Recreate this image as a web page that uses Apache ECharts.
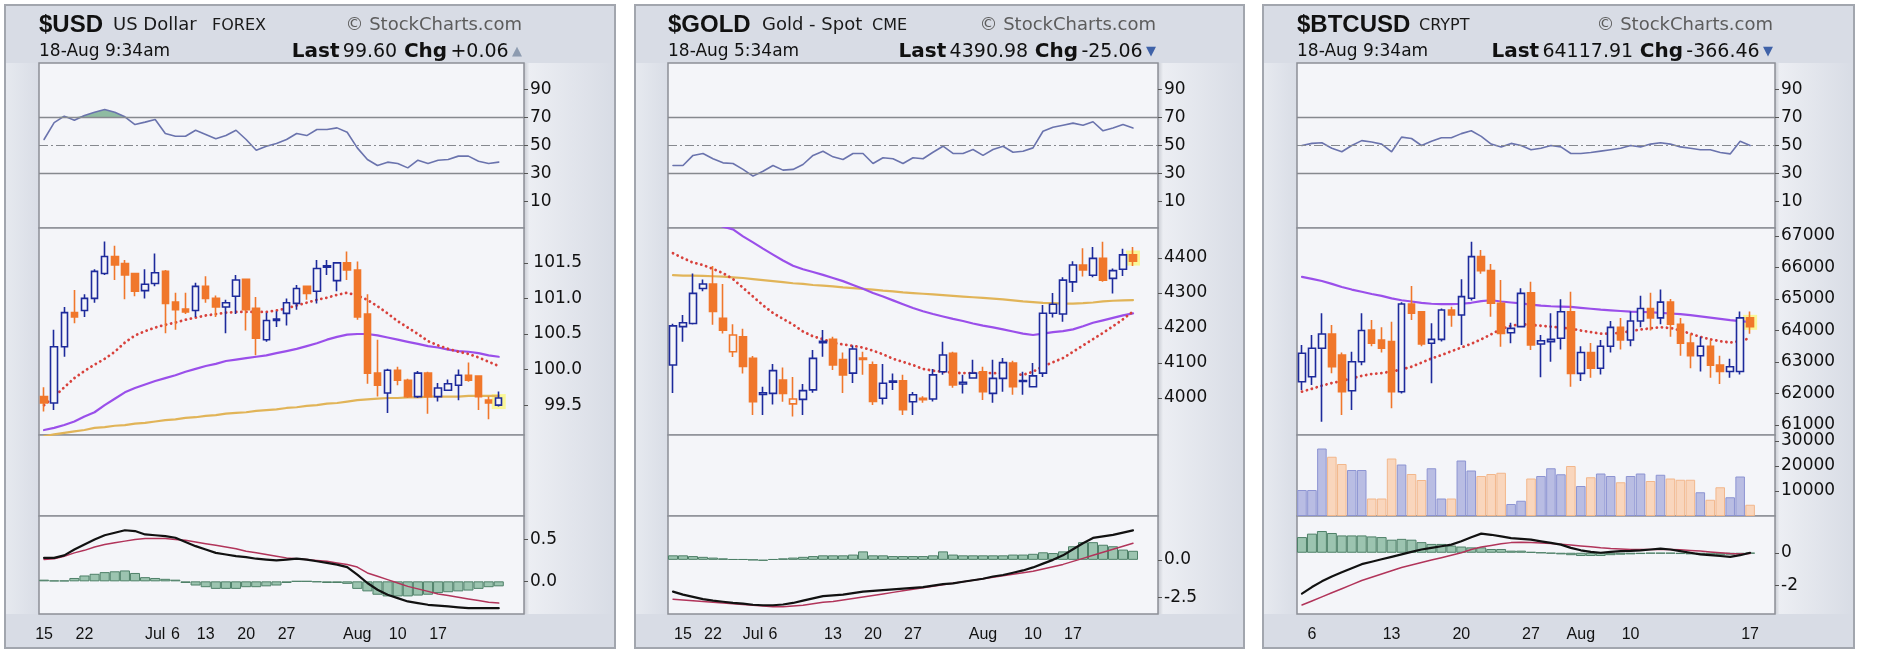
<!DOCTYPE html>
<html>
<head>
<meta charset="utf-8">
<title>StockCharts panels</title>
<script src="https://cdn.jsdelivr.net/npm/echarts@6.0.0/dist/echarts.min.js"></script>
<style>
  html, body { margin: 0; padding: 0; background: #ffffff; }
  #main { width: 1882px; height: 658px; }
</style>
</head>
<body>
<div id="main"></div>
<script>
// ---------- $USD (rows: open, high, low, close) ----------
var usdOHLC = [
  [99.62,99.75,99.41,99.53],[99.53,100.56,99.43,100.32],[100.32,100.88,100.18,100.80],[100.80,101.12,100.65,100.74],
  [100.83,101.06,100.74,101.00],[101.00,101.41,100.94,101.38],[101.35,101.80,101.33,101.59],[101.59,101.74,101.26,101.47],
  [101.49,101.54,100.99,101.33],[101.35,101.36,101.03,101.10],[101.11,101.41,101.00,101.20],[101.21,101.63,101.17,101.36],
  [101.38,101.40,100.51,100.93],[100.95,101.08,100.56,100.84],[100.85,101.08,100.78,100.81],[100.83,101.22,100.74,101.17],
  [101.17,101.31,100.94,101.00],[101.00,101.04,100.74,100.88],[100.88,100.98,100.51,100.94],[101.03,101.33,100.78,101.26],
  [101.27,101.28,100.55,100.84],[100.86,101.02,100.20,100.44],[100.42,100.80,100.39,100.69],[100.69,100.82,100.60,100.71],
  [100.79,101.00,100.62,100.94],[100.93,101.19,100.84,101.14],[101.17,101.17,100.98,101.07],[101.10,101.54,100.93,101.42],
  [101.44,101.54,101.33,101.46],[101.25,101.50,101.10,101.50],[101.50,101.66,101.26,101.40],[101.40,101.52,100.70,100.74],
  [100.78,101.06,99.80,99.95],[99.95,100.42,99.62,99.78],[99.67,100.01,99.39,99.99],[99.99,100.04,99.78,99.85],
  [99.85,99.87,99.60,99.62],[99.62,99.98,99.60,99.95],[99.95,99.97,99.38,99.62],[99.62,99.81,99.55,99.74],
  [99.71,99.86,99.70,99.80],[99.78,100.00,99.57,99.92],[99.92,100.10,99.83,99.85],[99.91,99.92,99.43,99.62],
  [99.57,99.62,99.30,99.53],[99.50,99.69,99.48,99.60]
];
var usdMA20 = [99.50,99.62,99.75,99.88,99.98,100.07,100.15,100.25,100.38,100.48,100.54,100.59,100.63,100.66,100.70,100.73,
  100.76,100.78,100.80,100.81,100.81,100.81,100.81,100.83,100.86,100.90,100.94,100.98,101.01,101.05,101.08,101.04,
  100.98,100.89,100.79,100.68,100.59,100.50,100.40,100.34,100.29,100.25,100.22,100.17,100.11,100.05];
var usdMA50 = [99.15,99.18,99.22,99.27,99.34,99.40,99.50,99.59,99.68,99.74,99.79,99.84,99.88,99.92,99.97,100.01,
  100.05,100.08,100.12,100.14,100.16,100.18,100.20,100.23,100.26,100.29,100.33,100.37,100.42,100.46,100.49,100.50,
  100.50,100.48,100.45,100.42,100.39,100.36,100.33,100.31,100.28,100.26,100.25,100.23,100.20,100.18];
var usdMA200 = [99.06,99.09,99.11,99.13,99.15,99.18,99.19,99.21,99.22,99.24,99.25,99.27,99.29,99.30,99.32,99.33,
  99.35,99.36,99.38,99.39,99.40,99.42,99.43,99.44,99.46,99.47,99.49,99.50,99.52,99.53,99.55,99.57,
  99.58,99.59,99.60,99.60,99.61,99.61,99.62,99.62,99.62,99.62,99.63,99.63,99.63,99.63];
var usdRSI = [54.3,66.4,71.0,68.0,71.4,73.8,75.7,73.8,70.5,65.0,66.7,68.6,58.6,56.6,56.6,60.9,57.9,54.8,57.1,60.9,
  54.3,46.6,49.5,51.4,54.3,58.6,57.1,61.4,61.4,62.6,59.5,48.3,40.0,35.7,38.1,37.1,34.0,39.5,37.1,39.5,
  40.0,42.4,42.4,38.8,37.1,38.1];
var usdMACD = [0.28,0.28,0.31,0.38,0.44,0.50,0.55,0.58,0.61,0.60,0.56,0.55,0.54,0.52,0.47,0.42,0.38,0.34,0.32,0.30,
  0.29,0.27,0.26,0.25,0.26,0.27,0.26,0.24,0.22,0.20,0.17,0.08,-0.02,-0.10,-0.16,-0.20,-0.24,-0.26,-0.28,-0.29,
  -0.30,-0.31,-0.32,-0.32,-0.32,-0.32];
var usdSignal = [0.26,0.27,0.30,0.34,0.37,0.41,0.44,0.46,0.48,0.50,0.51,0.51,0.51,0.50,0.49,0.47,0.45,0.43,0.41,0.39,
  0.36,0.34,0.32,0.30,0.28,0.27,0.26,0.25,0.24,0.22,0.20,0.17,0.10,0.06,0.02,-0.02,-0.06,-0.09,-0.12,-0.15,
  -0.17,-0.19,-0.21,-0.23,-0.25,-0.26];
var usdHist = [0.02,0.01,0.01,0.04,0.07,0.09,0.11,0.12,0.13,0.10,0.05,0.04,0.03,0.02,-0.02,-0.05,-0.07,-0.09,-0.09,-0.09,
  -0.07,-0.07,-0.06,-0.05,-0.02,0.00,0.00,-0.01,-0.02,-0.02,-0.03,-0.09,-0.12,-0.16,-0.18,-0.18,-0.18,-0.17,-0.16,-0.14,
  -0.13,-0.12,-0.11,-0.09,-0.07,-0.06];
var usdPriceTicks = [101.5, 101.0, 100.5, 100.0, 99.5];
var usdMacdTicks = [0.5, 0.0];
var usdDateTicks = [[0,'15'],[4,'22'],[11,'Jul'],[13,'6'],[16,'13'],[20,'20'],[24,'27'],[31,'Aug'],[35,'10'],[39,'17']];

// ---------- $GOLD ----------
var goldOHLC = [
  [4094,4212,4014,4206],[4204,4237,4161,4215],[4213,4356,4210,4299],[4313,4339,4305,4326],[4326,4377,4209,4247],
  [4228,4326,4184,4194],[4132,4211,4117,4180],[4175,4198,4070,4090],[4113,4120,3951,3989],[4010,4032,3951,4015],
  [4013,4097,3981,4078],[4051,4087,3989,4013],[3983,4060,3947,3997],[3996,4040,3951,4021],[4023,4137,4015,4113],
  [4158,4194,4118,4162],[4168,4175,4080,4094],[4110,4130,4014,4066],[4071,4150,4043,4140],[4110,4132,4066,4114],
  [4095,4104,3980,3990],[3999,4097,3981,4042],[4045,4070,4023,4048],[4049,4066,3951,3966],[3989,4017,3951,4009],
  [3995,4005,3986,3999],[3997,4083,3990,4066],[4075,4161,4066,4123],[4128,4132,4029,4037],[4040,4066,4013,4045],
  [4057,4109,4055,4071],[4075,4089,3994,4018],[4013,4109,3986,4056],[4056,4114,4018,4101],[4100,4106,4009,4032],
  [4047,4075,4009,4050],[4032,4100,4030,4063],[4071,4266,4060,4242],[4242,4300,4230,4268],[4240,4345,4218,4337],
  [4332,4391,4303,4380],[4380,4428,4347,4366],[4351,4432,4345,4399],[4399,4447,4332,4337],[4342,4370,4299,4364],
  [4368,4427,4349,4409],[4409,4432,4377,4391]
];
var goldMA20 = [4414,4400,4387,4380,4369,4357,4340,4315,4290,4265,4243,4226,4210,4190,4176,4168,4158,4153,4149,4144,
  4135,4125,4112,4103,4094,4083,4078,4075,4072,4071,4071,4071,4071,4070,4068,4066,4075,4090,4102,4114,
  4132,4150,4168,4186,4205,4225,4247];
var goldMA50 = [4560,4545,4530,4515,4500,4490,4482,4462,4445,4427,4410,4393,4378,4368,4360,4352,4343,4334,4323,4312,
  4300,4290,4279,4268,4257,4248,4240,4233,4226,4220,4213,4207,4202,4196,4190,4184,4180,4184,4188,4191,
  4196,4205,4215,4222,4229,4236,4242];
var goldMA200 = [4351,4350,4350,4349,4348,4347,4345,4343,4340,4337,4334,4331,4328,4326,4323,4321,4319,4316,4314,4312,
  4310,4307,4305,4302,4300,4298,4296,4294,4292,4290,4288,4286,4284,4282,4279,4276,4274,4272,4271,4270,
  4270,4271,4273,4276,4278,4279,4280];
var goldRSI = [35.7,35.7,42.9,44.3,40.5,37.6,37.1,32.9,28.1,31.6,35.7,32.4,32.9,36.4,42.9,45.9,41.9,40.0,44.3,44.3,
  37.1,41.2,40.5,37.1,41.2,40.5,45.2,49.5,44.3,44.3,47.1,42.9,47.1,49.5,45.2,45.9,48.3,60.2,63.0,64.5,
  66.0,64.5,67.0,60.5,62.5,65.0,62.5];
var goldMACD = [-2.10,-2.30,-2.45,-2.60,-2.70,-2.77,-2.85,-2.90,-2.97,-3.00,-3.00,-2.95,-2.85,-2.70,-2.55,-2.40,-2.35,-2.30,-2.20,-2.10,
  -2.05,-2.00,-1.95,-1.90,-1.85,-1.80,-1.70,-1.60,-1.55,-1.45,-1.35,-1.25,-1.10,-1.00,-0.85,-0.70,-0.50,-0.25,0.00,0.30,
  0.70,1.10,1.45,1.55,1.65,1.80,1.95];
var goldSignal = [-2.60,-2.65,-2.70,-2.75,-2.80,-2.85,-2.90,-2.95,-3.00,-3.05,-3.10,-3.10,-3.05,-3.00,-2.90,-2.80,-2.75,-2.65,-2.55,-2.45,
  -2.35,-2.25,-2.15,-2.05,-1.95,-1.85,-1.75,-1.65,-1.55,-1.45,-1.35,-1.25,-1.15,-1.05,-0.95,-0.85,-0.75,-0.60,-0.45,-0.30,
  -0.10,0.10,0.30,0.50,0.70,0.90,1.10];
var goldHist = [0.30,0.30,0.25,0.20,0.15,0.10,0.05,0.05,0.00,-0.05,0.05,0.10,0.15,0.20,0.25,0.30,0.30,0.30,0.35,0.56,
  0.30,0.30,0.25,0.25,0.25,0.25,0.30,0.56,0.35,0.30,0.30,0.30,0.30,0.30,0.35,0.35,0.40,0.50,0.45,0.56,
  0.90,1.17,1.17,1.00,0.90,0.68,0.60];
var goldPriceTicks = [4400, 4300, 4200, 4100, 4000];
var goldMacdTicks = [0.0, -2.5];
var goldDateTicks = [[1,'15'],[4,'22'],[8,'Jul'],[10,'6'],[16,'13'],[20,'20'],[24,'27'],[31,'Aug'],[36,'10'],[40,'17']];

// ---------- $BTCUSD ----------
var btcOHLC = [
  [62375,63540,62111,63276],[62533,63857,62270,63435],[63435,64546,61105,63889],[63889,64175,62640,62850],
  [63222,63300,61317,62058],[62090,63327,61476,63010],[63010,64546,62900,64000],[64016,64333,63500,63594],
  [63698,64100,63300,63435],[63646,64280,61529,62058],[62058,64900,62000,64841],[64841,65413,64333,64546],
  [64597,64600,63500,63571],[63594,64228,62323,63720],[63720,64700,63650,64650],[64650,64756,64122,64492],
  [64492,65625,63540,65074],[65022,66820,64950,66344],[66344,66556,65800,65900],[65900,66111,64439,64863],
  [64863,65603,63487,63910],[63930,64250,63594,64068],[64122,65340,64100,65180],[65200,65550,63381,63540],
  [63571,63857,62514,63677],[63646,64546,63010,63720],[63752,64990,63400,64597],[64597,65233,62217,62640],
  [62640,63500,62400,63300],[63300,63600,62500,62800],[62800,63700,62600,63500],[63500,64300,63300,64100],
  [64100,64400,63400,63700],[63700,64600,63500,64300],[64300,65100,64100,64700],[64700,65200,64000,64400],
  [64400,65300,64200,64900],[64900,65000,63800,64200],[64200,64400,63200,63600],[63600,63900,62800,63200],
  [63200,63800,62700,63500],[63500,63700,62500,62900],[62900,63200,62300,62700],[62700,63100,62500,62850],
  [62700,64600,62600,64400],[64400,64600,63900,64118]
];
var btcVolume = [10400,10400,27000,23700,20800,18400,18400,7000,7000,23000,20600,16800,14400,19100,7000,7000,
  22200,18200,16000,16800,17300,4800,6100,15000,16000,19100,16700,20000,12000,15500,17000,16000,
  13500,16000,17000,14000,16500,15000,14500,14500,9500,6500,11500,7500,15800,4500];
var btcMA20 = [62060,62150,62250,62330,62400,62480,62560,62620,62650,62700,62760,62850,62980,63110,63220,63340,
  63460,63580,63720,63880,64050,64150,64200,64180,64150,64120,64090,64060,64000,63950,63900,63900,
  63930,63980,64030,64070,64100,64080,64000,63900,63800,63720,63660,63620,63660,63760];
var btcMA50 = [65700,65640,65570,65480,65380,65300,65230,65160,65100,65020,64960,64920,64880,64850,64840,64840,
  64850,64880,64930,64960,64920,64890,64860,64820,64790,64770,64760,64750,64720,64690,64660,64640,
  64620,64600,64590,64580,64560,64540,64520,64490,64450,64410,64370,64330,64300,64270];
var btcRSI = [50,51.5,52,48,45.5,50,53.5,52.5,51,45.5,56,55,50,53,55.5,55.5,58.5,60.5,56.5,51,
  49,51.5,50,47,48,50,49,44.3,44.3,45,46,47,48,50,49,51,52,51,49,48,47,47,45,44,53,50];
var btcMACD = [-2.50,-2.10,-1.75,-1.45,-1.20,-0.95,-0.70,-0.55,-0.40,-0.25,-0.10,0.05,0.20,0.30,0.40,0.50,
  0.70,0.95,1.17,1.10,1.00,0.90,0.85,0.80,0.70,0.60,0.50,0.30,0.15,0.05,0.00,0.05,
  0.10,0.12,0.15,0.20,0.25,0.20,0.10,0.00,-0.10,-0.15,-0.20,-0.25,-0.15,0.00];
var btcSignal = [-3.20,-2.95,-2.70,-2.45,-2.20,-1.95,-1.70,-1.50,-1.30,-1.10,-0.90,-0.75,-0.60,-0.45,-0.30,-0.15,
  0.00,0.20,0.35,0.45,0.55,0.62,0.64,0.62,0.60,0.56,0.52,0.48,0.42,0.36,0.30,0.26,
  0.23,0.20,0.20,0.20,0.20,0.20,0.18,0.14,0.10,0.05,0.00,-0.05,-0.07,-0.05];
var btcHist = [0.96,1.17,1.33,1.21,1.06,1.06,1.06,1.00,0.96,0.80,0.85,0.80,0.65,0.54,0.54,0.44,
  0.38,0.33,0.33,0.23,0.23,0.13,0.13,0.05,0.00,-0.05,-0.10,-0.15,-0.20,-0.20,-0.20,-0.15,
  -0.12,-0.10,-0.08,-0.05,-0.05,-0.05,-0.08,-0.10,-0.12,-0.15,-0.15,-0.12,-0.08,-0.05];
var btcPriceTicks = [67000, 66000, 65000, 64000, 63000, 62000, 61000];
var btcVolumeTicks = [30000, 20000, 10000];
var btcMacdTicks = [0, -2];
var btcDateTicks = [[1,'6'],[9,'13'],[16,'20'],[23,'27'],[28,'Aug'],[33,'10'],[45,'17']];

var rsiTicks = [90, 70, 50, 30, 10];

// ---------- layout & styles ----------
var FONT = 'Liberation Sans, Arial, sans-serif';
var FONT2 = 'DejaVu Sans, Verdana, sans-serif';
var BLUE = '#1d2a9b', ORANGE = '#f0772b', PLOT_BG = '#f4f5f9';

var panels = [
  { left: 5, right: 615, plotL: 39, plotR: 524, n: 48,
    sym: '$USD', name: 'US Dollar', exch: 'FOREX', nameX: 74, exchX: 173,
    stamp: '18-Aug 9:34am', last: '99.60', chg: '+0.06', up: true,
    ohlc: usdOHLC, ma20: usdMA20, ma50: usdMA50, ma200: usdMA200, vol: null,
    rsi: usdRSI, macd: usdMACD, signal: usdSignal, hist: usdHist,
    price: [99.08, 101.99], priceTicks: usdPriceTicks, priceDigits: 1, priceRight: true,
    macdRange: [-0.39, 0.78], macdTicks: usdMacdTicks, macdDigits: 1, dates: usdDateTicks },
  { left: 635, right: 1244, plotL: 668, plotR: 1158, n: 49,
    sym: '$GOLD', name: 'Gold - Spot', exch: 'CME', nameX: 94, exchX: 204,
    stamp: '18-Aug 5:34am', last: '4390.98', chg: '-25.06', up: false,
    ohlc: goldOHLC, ma20: goldMA20, ma50: goldMA50, ma200: goldMA200, vol: null,
    rsi: goldRSI, macd: goldMACD, signal: goldSignal, hist: goldHist,
    price: [3894, 4486], priceTicks: goldPriceTicks, priceDigits: 0, priceRight: false,
    macdRange: [-3.58, 2.9], macdTicks: goldMacdTicks, macdDigits: 1, dates: goldDateTicks },
  { left: 1263, right: 1854, plotL: 1297, plotR: 1775, n: 48,
    sym: '$BTCUSD', name: '', exch: 'CRYPT', nameX: 0, exchX: 122,
    stamp: '18-Aug 9:34am', last: '64117.91', chg: '-366.46', up: false,
    ohlc: btcOHLC, ma20: btcMA20, ma50: btcMA50, ma200: null, vol: btcVolume,
    rsi: btcRSI, macd: btcMACD, signal: btcSignal, hist: btcHist,
    price: [60683, 67254], priceTicks: btcPriceTicks, priceDigits: 0, priceRight: false,
    volRange: [0, 32400], volTicks: btcVolumeTicks,
    macdRange: [-3.75, 2.25], macdTicks: btcMacdTicks, macdDigits: 0, dates: btcDateTicks }
];

var ROWS = [[63, 165], [228, 207], [435, 81], [516, 98]];

var option = {
  animation: false,
  backgroundColor: '#ffffff',
  grid: [], xAxis: [], yAxis: [], series: [], graphic: []
};

function yAxisFor(gi, range, ticks, digits, alignRight) {
  var hasTicks = ticks && ticks.length > 0;
  var ax = {
    type: 'value', gridIndex: gi, position: 'right', min: range[0], max: range[1],
    axisLine: { show: false }, splitLine: { show: false },
    axisTick: { show: false }, axisLabel: { show: false }
  };
  if (hasTicks) {
    ax.axisTick = { show: true, customValues: ticks, length: 4, lineStyle: { color: '#555', width: 1 } };
    ax.axisLabel = {
      show: true, customValues: ticks, color: '#111', fontSize: 17, fontFamily: FONT2,
      align: alignRight ? 'right' : 'left', margin: alignRight ? 58 : 6,
      formatter: function (v) { return digits == null ? String(v) : Number(v).toFixed(digits); }
    };
  }
  return ax;
}

function candleItems(ohlc) {
  return ohlc.map(function (r, i) {
    var prev = i > 0 ? ohlc[i - 1][3] : r[0];
    var col = r[3] >= prev ? BLUE : ORANGE;
    var fill = r[3] >= r[0] ? PLOT_BG : col;
    return { value: [r[0], r[3], r[2], r[1]],
      itemStyle: { color: fill, color0: fill, borderColor: col, borderColor0: col } };
  });
}

function volumeItems(vol, ohlc) {
  return vol.map(function (v, i) {
    var prev = i > 0 ? ohlc[i - 1][3] : ohlc[i][0];
    var up = ohlc[i][3] >= prev;
    return { value: v, itemStyle: up ? { color: '#b9bde3', borderColor: '#8d94d2', borderWidth: 1 }
                                     : { color: '#f9d6bd', borderColor: '#f2b78c', borderWidth: 1 } };
  });
}

function lineSeries(gi, data, color, width, type, z) {
  return { type: 'line', xAxisIndex: gi, yAxisIndex: gi, data: data, symbol: 'none', silent: true,
    clip: true, z: z || 2,
    lineStyle: { color: color, width: width, type: type || 'solid', cap: 'round' } };
}

function addPanel(p) {
  var g0 = option.grid.length;
  var w = p.plotR - p.plotL;
  var cats = [];
  for (var i = 0; i < p.n; i++) cats.push(String(i));
  var dateMap = {};
  p.dates.forEach(function (d) { dateMap[d[0]] = d[1]; });

  ROWS.forEach(function (r, k) {
    option.grid.push({ left: p.plotL, top: r[0], width: w, height: r[1], show: true,
      backgroundColor: PLOT_BG, borderColor: '#8c8f96', borderWidth: 1.5 });
    option.xAxis.push({ type: 'category', gridIndex: g0 + k, data: cats, boundaryGap: true,
      axisLine: { show: false }, axisTick: { show: false }, splitLine: { show: false },
      axisLabel: k === 3 ? { show: true, interval: 0, color: '#111', fontSize: 16, fontFamily: FONT, margin: 13,
        formatter: function (v, idx) { return dateMap[idx] || ''; } } : { show: false } });
  });

  option.yAxis.push(yAxisFor(g0, [-9, 109], rsiTicks, 0, false));
  option.yAxis.push(yAxisFor(g0 + 1, p.price, p.priceTicks, p.priceDigits, p.priceRight));
  option.yAxis.push(yAxisFor(g0 + 2, p.volRange || [0, 1], p.volTicks || [], 0, false));
  option.yAxis.push(yAxisFor(g0 + 3, p.macdRange, p.macdTicks, p.macdDigits, false));

  // RSI
  var rsi = lineSeries(g0, p.rsi, '#6a73ad', 1.6, 'solid', 3);
  rsi.markLine = { silent: true, symbol: 'none', label: { show: false }, animation: false,
    data: [
      { yAxis: 70, lineStyle: { color: '#86898f', width: 1.4, type: 'solid' } },
      { yAxis: 30, lineStyle: { color: '#86898f', width: 1.4, type: 'solid' } },
      { yAxis: 50, lineStyle: { color: '#86898f', width: 1.2, type: [9, 3, 2, 3] } }
    ] };
  option.series.push(rsi);
  if (p.rsi.some(function (v) { return v > 70; })) {
    var over = lineSeries(g0, p.rsi.map(function (v) { return v > 70 ? v : 70; }), '#8fbba2', 0, 'solid', 2);
    over.areaStyle = { color: '#8fbba2', origin: 70, opacity: 1 };
    option.series.push(over);
  }

  // price
  var pg = g0 + 1;
  if (p.ma200) option.series.push(lineSeries(pg, p.ma200, '#e1b458', 2.2, 'solid', 2));
  option.series.push(lineSeries(pg, p.ma50, '#9a4fea', 2.2, 'solid', 2));
  option.series.push(lineSeries(pg, p.ma20, '#d8413c', 2.8, [0.1, 5], 2));
  var lastIdx = p.ohlc.length - 1, lastRow = p.ohlc[lastIdx];
  option.series.push({ type: 'scatter', xAxisIndex: pg, yAxisIndex: pg, silent: true, z: 1,
    data: [[lastIdx, (lastRow[0] + lastRow[3]) / 2]], symbol: 'rect', symbolSize: [14, 15],
    itemStyle: { color: '#fbf67e' } });
  option.series.push({ type: 'candlestick', xAxisIndex: pg, yAxisIndex: pg, silent: true, z: 4,
    barWidth: 7, data: candleItems(p.ohlc), itemStyle: { borderWidth: 1.6 } });

  // volume
  if (p.vol) {
    option.series.push({ type: 'bar', xAxisIndex: g0 + 2, yAxisIndex: g0 + 2, silent: true,
      barCategoryGap: '4%', data: volumeItems(p.vol, p.ohlc) });
  }

  // MACD
  var mg = g0 + 3;
  option.series.push({ type: 'bar', xAxisIndex: mg, yAxisIndex: mg, silent: true, z: 1,
    barCategoryGap: '0%', data: p.hist,
    itemStyle: { color: '#9cc4b0', borderColor: '#4e8068', borderWidth: 1 } });
  option.series.push(lineSeries(mg, p.signal, '#b1345a', 1.5, 'solid', 3));
  option.series.push(lineSeries(mg, p.macd, '#111111', 2.2, 'solid', 4));

  // frame and side shading
  option.graphic.push({ type: 'rect', z: -20, silent: true,
    shape: { x: p.left, y: 5, width: p.right - p.left, height: 643 },
    style: { fill: '#d8dce5', stroke: '#a2a6ae', lineWidth: 2 } });
  option.graphic.push({ type: 'rect', z: -19, silent: true,
    shape: { x: p.left + 1, y: 63, width: p.plotL - p.left - 1, height: 551 },
    style: { fill: new echarts.graphic.LinearGradient(0, 0, 1, 0,
      [{ offset: 0, color: '#e6e9ef' }, { offset: 1, color: '#d9dde6' }]) } });
  option.graphic.push({ type: 'rect', z: -19, silent: true,
    shape: { x: p.plotR, y: 63, width: p.right - p.plotR - 1, height: 551 },
    style: { fill: new echarts.graphic.LinearGradient(0, 0, 1, 0,
      [{ offset: 0, color: '#c9ccd3' }, { offset: 0.06, color: '#eceef3' }, { offset: 1, color: '#d8dce5' }]) } });

  // header texts
  var tx = function (x, y, text, font, fill, align) {
    option.graphic.push({ type: 'text', x: x, y: y, silent: true, z: 5,
      style: { text: text, font: font, fill: fill || '#111', align: align || 'left', textAlign: align || 'left',
        verticalAlign: 'middle', textVerticalAlign: 'middle' } });
  };
  tx(p.plotL, 25, p.sym, 'bold 24px ' + FONT, '#111');
  if (p.name) tx(p.plotL + p.nameX, 25, p.name, '18px ' + FONT2, '#1a1a1a');
  tx(p.plotL + p.exchX, 26, p.exch, '16px ' + FONT2, '#1a1a1a');
  tx(p.plotR - 2, 25, '\u00A9 StockCharts.com', '18px ' + FONT2, '#5c5c5c', 'right');
  tx(p.plotL, 52, p.stamp, '17px ' + FONT2, '#111');
  option.graphic.push({ type: 'text', x: p.plotR - 2, y: 52, silent: true, z: 5,
    style: { text: '{b|Last} {n|' + p.last + '}  {b|Chg} {n|' + p.chg + '} {t|' + (p.up ? '\u25B2' : '\u25BC') + '}',
      align: 'right', textAlign: 'right', verticalAlign: 'middle', textVerticalAlign: 'middle',
      rich: {
        b: { fontFamily: FONT2, fontWeight: 'bold', fontSize: 20, fill: '#111', color: '#111' },
        n: { fontFamily: FONT2, fontSize: 19, fill: '#111', color: '#111' },
        t: { fontFamily: FONT2, fontSize: 13, fill: p.up ? '#8d9bb0' : '#3f62a8', color: p.up ? '#8d9bb0' : '#3f62a8' }
      } } });
}

panels.forEach(addPanel);

var chart = echarts.init(document.getElementById('main'), null, { renderer: 'canvas' });
chart.setOption(option);
</script>
</body>
</html>
